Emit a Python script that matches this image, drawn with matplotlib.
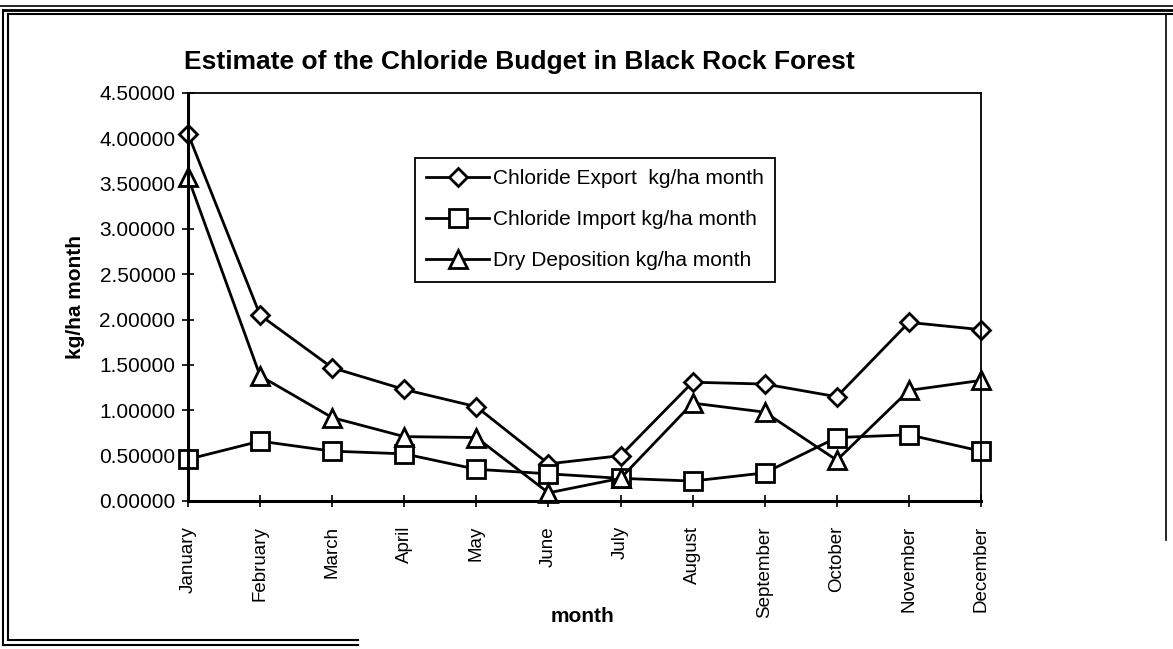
import matplotlib
matplotlib.use("Agg")
import matplotlib.pyplot as plt
from matplotlib.lines import Line2D

plt.rcParams['font.family'] = ['Liberation Sans', 'DejaVu Sans']

months = ["January", "February", "March", "April", "May", "June", "July",
          "August", "September", "October", "November", "December"]
export_cl = [4.05, 2.05, 1.47, 1.23, 1.04, 0.41, 0.50, 1.31, 1.29, 1.15, 1.97, 1.89]
import_cl = [0.46, 0.66, 0.55, 0.52, 0.35, 0.30, 0.25, 0.22, 0.31, 0.70, 0.73, 0.55]
dry_dep = [3.57, 1.38, 0.92, 0.71, 0.70, 0.09, 0.25, 1.08, 0.98, 0.45, 1.22, 1.33]
yticks = [0.0, 0.5, 1.0, 1.5, 2.0, 2.5, 3.0, 3.5, 4.0, 4.5]

W, H = 1173, 649
fig = plt.figure(figsize=(W / 100, H / 100), dpi=100)
fig.patch.set_facecolor('white')
ax = fig.add_axes([188 / W, 1 - 501 / H, (981 - 188) / W, (501 - 93) / H])

x = list(range(len(months)))
common = dict(color='black', lw=2, mfc='white', mec='black', mew=2, clip_on=False)
ax.plot(x, export_cl, marker='D', ms=9.5, label="Chloride Export  kg/ha month", **common)
ax.plot(x, import_cl, marker='s', ms=13, label="Chloride Import kg/ha month", **common)
ax.plot(x, dry_dep, marker='^', ms=13, label="Dry Deposition kg/ha month", **common)

ax.set_xlim(0, len(months) - 1)
ax.set_ylim(0, 4.5)
ax.set_xticks(x)
ax.set_xticklabels(months, rotation=90, fontsize=13.5)
ax.set_yticks(yticks)
ax.set_yticklabels([f"{v:.5f}" for v in yticks], fontsize=15)
ax.tick_params(axis='both', direction='inout', length=8, width=1.2, color='black')
ax.tick_params(axis='x', pad=14)
ax.tick_params(axis='y', pad=5)

for side in ('top', 'right'):
    ax.spines[side].set_linewidth(1.3)
for side in ('left', 'bottom'):
    ax.spines[side].set_linewidth(2.2)

ax.set_ylabel("kg/ha month", fontsize=15, fontweight='bold')
ax.yaxis.set_label_coords(-0.130, 0.5)
fig.text(583 / W, 1 - 616 / H, "month", fontsize=15, fontweight='bold',
         ha='center', va='center')
fig.text(519 / W, 1 - 62 / H, "Estimate of the Chloride Budget in Black Rock Forest",
         fontsize=19, fontweight='bold', ha='center', va='center')

leg = ax.legend(loc='upper left', bbox_to_anchor=(415 / W, 1 - 158 / H),
                bbox_transform=fig.transFigure, fontsize=15, frameon=True,
                fancybox=False, framealpha=1, edgecolor='black',
                handlelength=3.0, handletextpad=0.2, labelspacing=1.05,
                borderpad=0.55, borderaxespad=0)
leg.get_frame().set_linewidth(1.3)

# page border lines around the chart
def fline(x0, y0, x1, y1, lw=1.5):
    fig.add_artist(Line2D([x0 / W, x1 / W], [1 - y0 / H, 1 - y1 / H],
                          color='black', lw=lw, transform=fig.transFigure))

fline(0, 6, W, 6, lw=1.2)
fline(3, 10, W, 10, lw=2)
fline(8, 14, W, 14, lw=1.5)
fline(3, 10, 3, 645, lw=1.5)
fline(8, 14, 8, 640, lw=1.5)
fline(1166, 14, 1166, 540, lw=1.2)
fline(3, 645, 358, 645, lw=1.5)
fline(8, 640, 358, 640, lw=1.5)

fig.savefig("out.png", dpi=100, facecolor='white')
